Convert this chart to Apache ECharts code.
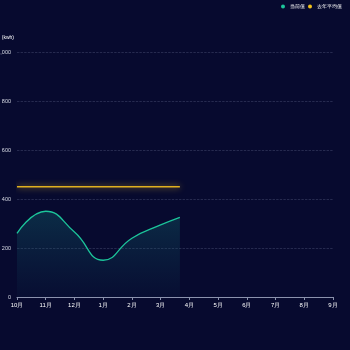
<!DOCTYPE html>
<html>
<head>
<meta charset="utf-8">
<script src="https://cdn.jsdelivr.net/npm/echarts@6/dist/echarts.min.js"></script>
<style>
  html, body { margin: 0; padding: 0; background: #070a2f; }
  #chart { width: 350px; height: 350px; }
</style>
</head>
<body>
<div id="chart"></div>
<script>
// Month labels along the x axis (Oct → Sep)
const months = ['10月', '11月', '12月', '1月', '2月', '3月', '4月', '5月', '6月', '7月', '8月', '9月'];
// Current-year readings: position in months from October, and kWh value
const currentPos = [0, 1, 2, 3, 4, 5, 5.67];
const currentVal = [260, 350, 265, 150, 240, 294, 325];
// Last year's average, drawn over the same span
const averageVal = 450;
const yTicks = [0, 200, 400, 600, 800, 1000];

const currentData = currentPos.map((x, i) => [x, currentVal[i]]);
const averageData = [[currentPos[0], averageVal], [currentPos[currentPos.length - 1], averageVal]];

const chart = echarts.init(document.getElementById('chart'));
chart.setOption({
  backgroundColor: '#070a2f',
  legend: {
    top: 4,
    right: 8,
    itemWidth: 4,
    itemHeight: 4,
    itemGap: 3,
    padding: 0,
    icon: 'circle',
    textStyle: { color: '#ffffff', fontSize: 4.6 },
    data: ['当前值', '去年平均值']
  },
  grid: { left: 17, right: 17, top: 52, bottom: 53, outerBoundsMode: 'none', containLabel: false },
  xAxis: {
    type: 'value',
    min: 0,
    max: months.length - 1,
    interval: 1,
    splitLine: { show: false },
    axisLine: { show: true, lineStyle: { color: '#8b92ad' } },
    axisTick: { show: true, length: 3, lineStyle: { color: '#8b92ad' } },
    axisLabel: {
      color: '#ffffff',
      fontSize: 6,
      margin: 5,
      formatter: v => months[Math.round(v)] || ''
    }
  },
  yAxis: {
    type: 'value',
    name: '(kwh)',
    nameGap: 12,
    nameTextStyle: { color: '#ffffff', fontSize: 5, align: 'right', padding: [0, 3, 0, 0] },
    min: yTicks[0],
    max: yTicks[yTicks.length - 1],
    interval: 200,
    axisLine: { show: false },
    axisTick: { show: false },
    axisLabel: { color: '#d8dbe6', fontSize: 5.5, margin: 6 },
    splitLine: { lineStyle: { color: 'rgba(160,170,200,0.35)', type: 'dashed', width: 0.6 } }
  },
  series: [
    {
      name: '当前值',
      type: 'line',
      smooth: true,
      symbol: 'none',
      data: currentData,
      itemStyle: { color: '#1cc49a' },
      lineStyle: { color: '#1cc49a', width: 1.3 },
      areaStyle: {
        color: new echarts.graphic.LinearGradient(0, 0, 0, 1, [
          { offset: 0, color: 'rgba(20,120,120,0.45)' },
          { offset: 1, color: 'rgba(20,90,110,0.08)' }
        ])
      }
    },
    {
      name: '去年平均值',
      type: 'line',
      symbol: 'none',
      data: averageData,
      itemStyle: { color: '#f2c21b' },
      lineStyle: {
        color: '#e0b020',
        width: 1.5,
        shadowColor: 'rgba(240,190,40,0.8)',
        shadowBlur: 6
      }
    }
  ]
});
</script>
</body>
</html>
